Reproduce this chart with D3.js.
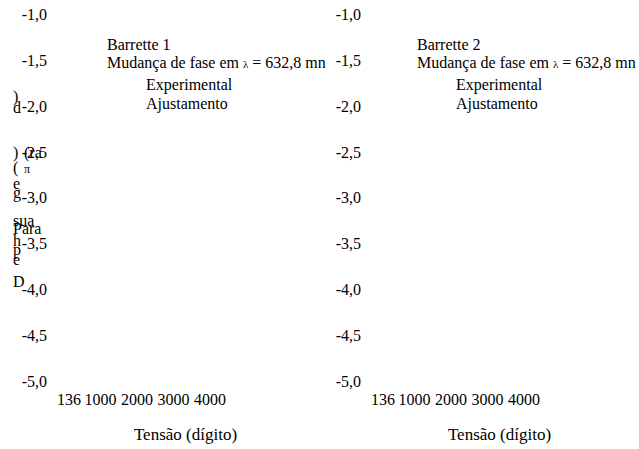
<!DOCTYPE html>
<html>
<head>
<meta charset="utf-8">
<script src="https://cdn.jsdelivr.net/npm/d3@7"></script>
<style>
  html, body { margin: 0; padding: 0; background: #fff; }
  svg { display: block; }
</style>
</head>
<body>
<script>
// Panels (one per barrette) and their legend texts
const panels = ["Barrette 1", "Barrette 2"];
const legendTitle = "Mudança de fase em ";
const legendLambda = "λ";
const legendTail = " = 632,8 mn";
const seriesNames = ["Experimental", "Ajustamento"];

// Axis ticks
const yTicks = [-1.0, -1.5, -2.0, -2.5, -3.0, -3.5, -4.0, -4.5, -5.0];
const xTicks = [136, 1000, 2000, 3000, 4000];
const xTitle = "Tensão (dígito)";

// Vertical axis title, laid out as stacked glyph pieces
const yTitlePieces = [")", "d", ")", "(ra", "(", "π", "e", "g", "sua", "Para", "h", "p", "e", "D"];

const W = 639, H = 449;
const panelOffset = 314;
const legendOffset = 310;
const FONT = "'Liberation Serif', 'Times New Roman', Times, serif";

const svg = d3.select("body").append("svg")
  .attr("width", W).attr("height", H)
  .style("font-family", FONT);

const fmt = v => v.toFixed(1).replace(".", ",");

function styleAxis(a) {
  a.attr("font-family", null).attr("font-size", null);
  a.select(".domain").remove();
  a.selectAll("text")
    .style("font-family", FONT)
    .style("font-size", "16px")
    .attr("fill", "#000");
}

panels.forEach((name, i) => {
  const g = svg.append("g").attr("transform", `translate(${i * panelOffset},0)`);

  const y = d3.scaleLinear().domain([-1, -5]).range([14.5, 381]);
  const x = d3.scaleLinear().domain([136, 4000]).range([68.5, 209.5]);

  // y axis: labels only
  const ya = g.append("g")
    .attr("transform", "translate(50,0)")
    .call(d3.axisLeft(y).tickValues(yTicks).tickFormat(fmt).tickSize(0).tickPadding(3));
  styleAxis(ya);

  // x axis: labels only
  const xa = g.append("g")
    .attr("transform", "translate(0,390.5)")
    .call(d3.axisBottom(x).tickValues(xTicks).tickFormat(d3.format("d")).tickSize(0).tickPadding(3));
  styleAxis(xa);

  g.append("text")
    .attr("x", 185.5).attr("y", 440)
    .attr("text-anchor", "middle")
    .style("font-family", FONT)
    .style("font-size", "17px")
    .text(xTitle);

  // legend block
  const lg = svg.append("g").attr("transform", `translate(${i * legendOffset},0)`);
  const lx = 107;
  lg.append("text").attr("x", lx).attr("y", 50)
    .style("font-family", FONT).style("font-size", "16px").text(name);
  const t = lg.append("text").attr("x", lx).attr("y", 68)
    .style("font-family", FONT).style("font-size", "16px");
  t.append("tspan").text(legendTitle);
  t.append("tspan").style("font-size", "11px").text(legendLambda);
  t.append("tspan").text(legendTail);
  seriesNames.forEach((s, k) => {
    lg.append("text").attr("x", lx + 39).attr("y", 90 + k * 18.5)
      .style("font-family", FONT).style("font-size", "16px").text(s);
  });

  if (i === 0) {
    // stacked y title glyphs (left panel only)
    const pos = [
      [13, 102], [13, 113], [13, 158], [24, 158], [13, 173], [24, 173],
      [13, 189], [13, 198], [13, 226], [13, 234], [13, 246], [13, 255],
      [13, 265], [13, 287]
    ];
    yTitlePieces.forEach((p, k) => {
      g.append("text")
        .attr("x", pos[k][0]).attr("y", pos[k][1])
        .style("font-family", FONT)
        .style("font-size", p === "π" ? "12px" : "16px")
        .text(p);
    });
  }
});
</script>
</body>
</html>
